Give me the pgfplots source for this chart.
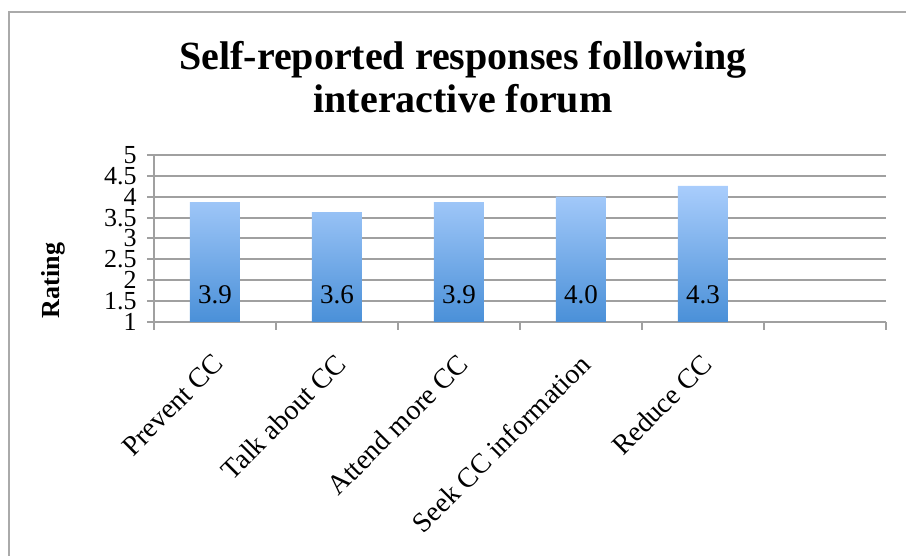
\documentclass[border=0pt]{standalone}
\usepackage{pgfplots}
\pgfplotsset{compat=1.18}
\usepackage{fontspec}
\setmainfont{Liberation Serif}
\definecolor{gridgray}{RGB}{160,160,160}
\definecolor{framegray}{RGB}{170,170,170}
\definecolor{bartop}{RGB}{169,205,252}
\definecolor{barbot}{RGB}{74,144,216}
\begin{document}
\begin{tikzpicture}
\path[use as bounding box] (0,0) rectangle (453pt,278pt);
\draw[framegray, line width=1pt] (4.5pt,0) -- (4.5pt,272pt) -- (460pt,272pt);
\node[anchor=base, font=\bfseries\fontsize{20}{24}\selectfont] at (231.5pt,243pt) {Self-reported responses following};
\node[anchor=base, font=\bfseries\fontsize{20}{24}\selectfont] at (231.5pt,221.5pt) {interactive forum};
\begin{axis}[
  at={(77pt,117pt)}, anchor=south west,
  scale only axis, width=366pt, height=83.5pt,
  xmin=-0.5, xmax=5.5, ymin=1, ymax=5,
  ytick={1,1.5,...,5},
  yticklabels={1,1.5,2,2.5,3,3.5,4,4.5,5},
  xtick={0,1,2,3,4},
  xticklabels={Prevent CC, Talk about CC, Attend more CC, Seek CC information, Reduce CC},
  minor xtick={-0.5,0.5,1.5,2.5,3.5,4.5,5.5},
  axis lines=left, axis line style={-, draw=gridgray, line width=1pt},
  ymajorgrids, grid style={gridgray, line width=1pt},
  major x tick style={draw=none},
  tick align=outside,
  major tick length=3.5pt, minor tick length=4pt,
  tick style={gridgray, line width=1pt},
  minor x tick style={gridgray, line width=1pt},
  yticklabel style={font=\fontsize{13}{13}\selectfont, inner xsep=1pt, xshift=-4pt},
  xticklabel style={font=\fontsize{14}{14}\selectfont, rotate=45, anchor=north east, inner sep=1pt, xshift=-8.1pt, yshift=-6pt},
  ylabel={Rating},
  ylabel style={at={([xshift=-50.5pt]rel axis cs:0,0.2485)}, anchor=center, font=\bfseries\fontsize{13}{13}\selectfont},
  /pgf/number format/assume math mode=true,
  clip=false,
]
\addplot[ybar, bar width=25pt, draw=none, top color=bartop, bottom color=barbot]
  coordinates {(0,3.87) (1,3.63) (2,3.87) (3,4.0) (4,4.26)};
\addplot[only marks, mark=none, forget plot,
  point meta=explicit,
  nodes near coords,
  nodes near coords style={anchor=center, yshift=13.5pt, font=\fontsize{13.5}{13.5}\selectfont,
    /pgf/number format/.cd, fixed, fixed zerofill, precision=1, assume math mode=true}]
  coordinates {(0,1) [3.87] (1,1) [3.63] (2,1) [3.87] (3,1) [4.0] (4,1) [4.26]};
\end{axis}
\end{tikzpicture}
\end{document}
